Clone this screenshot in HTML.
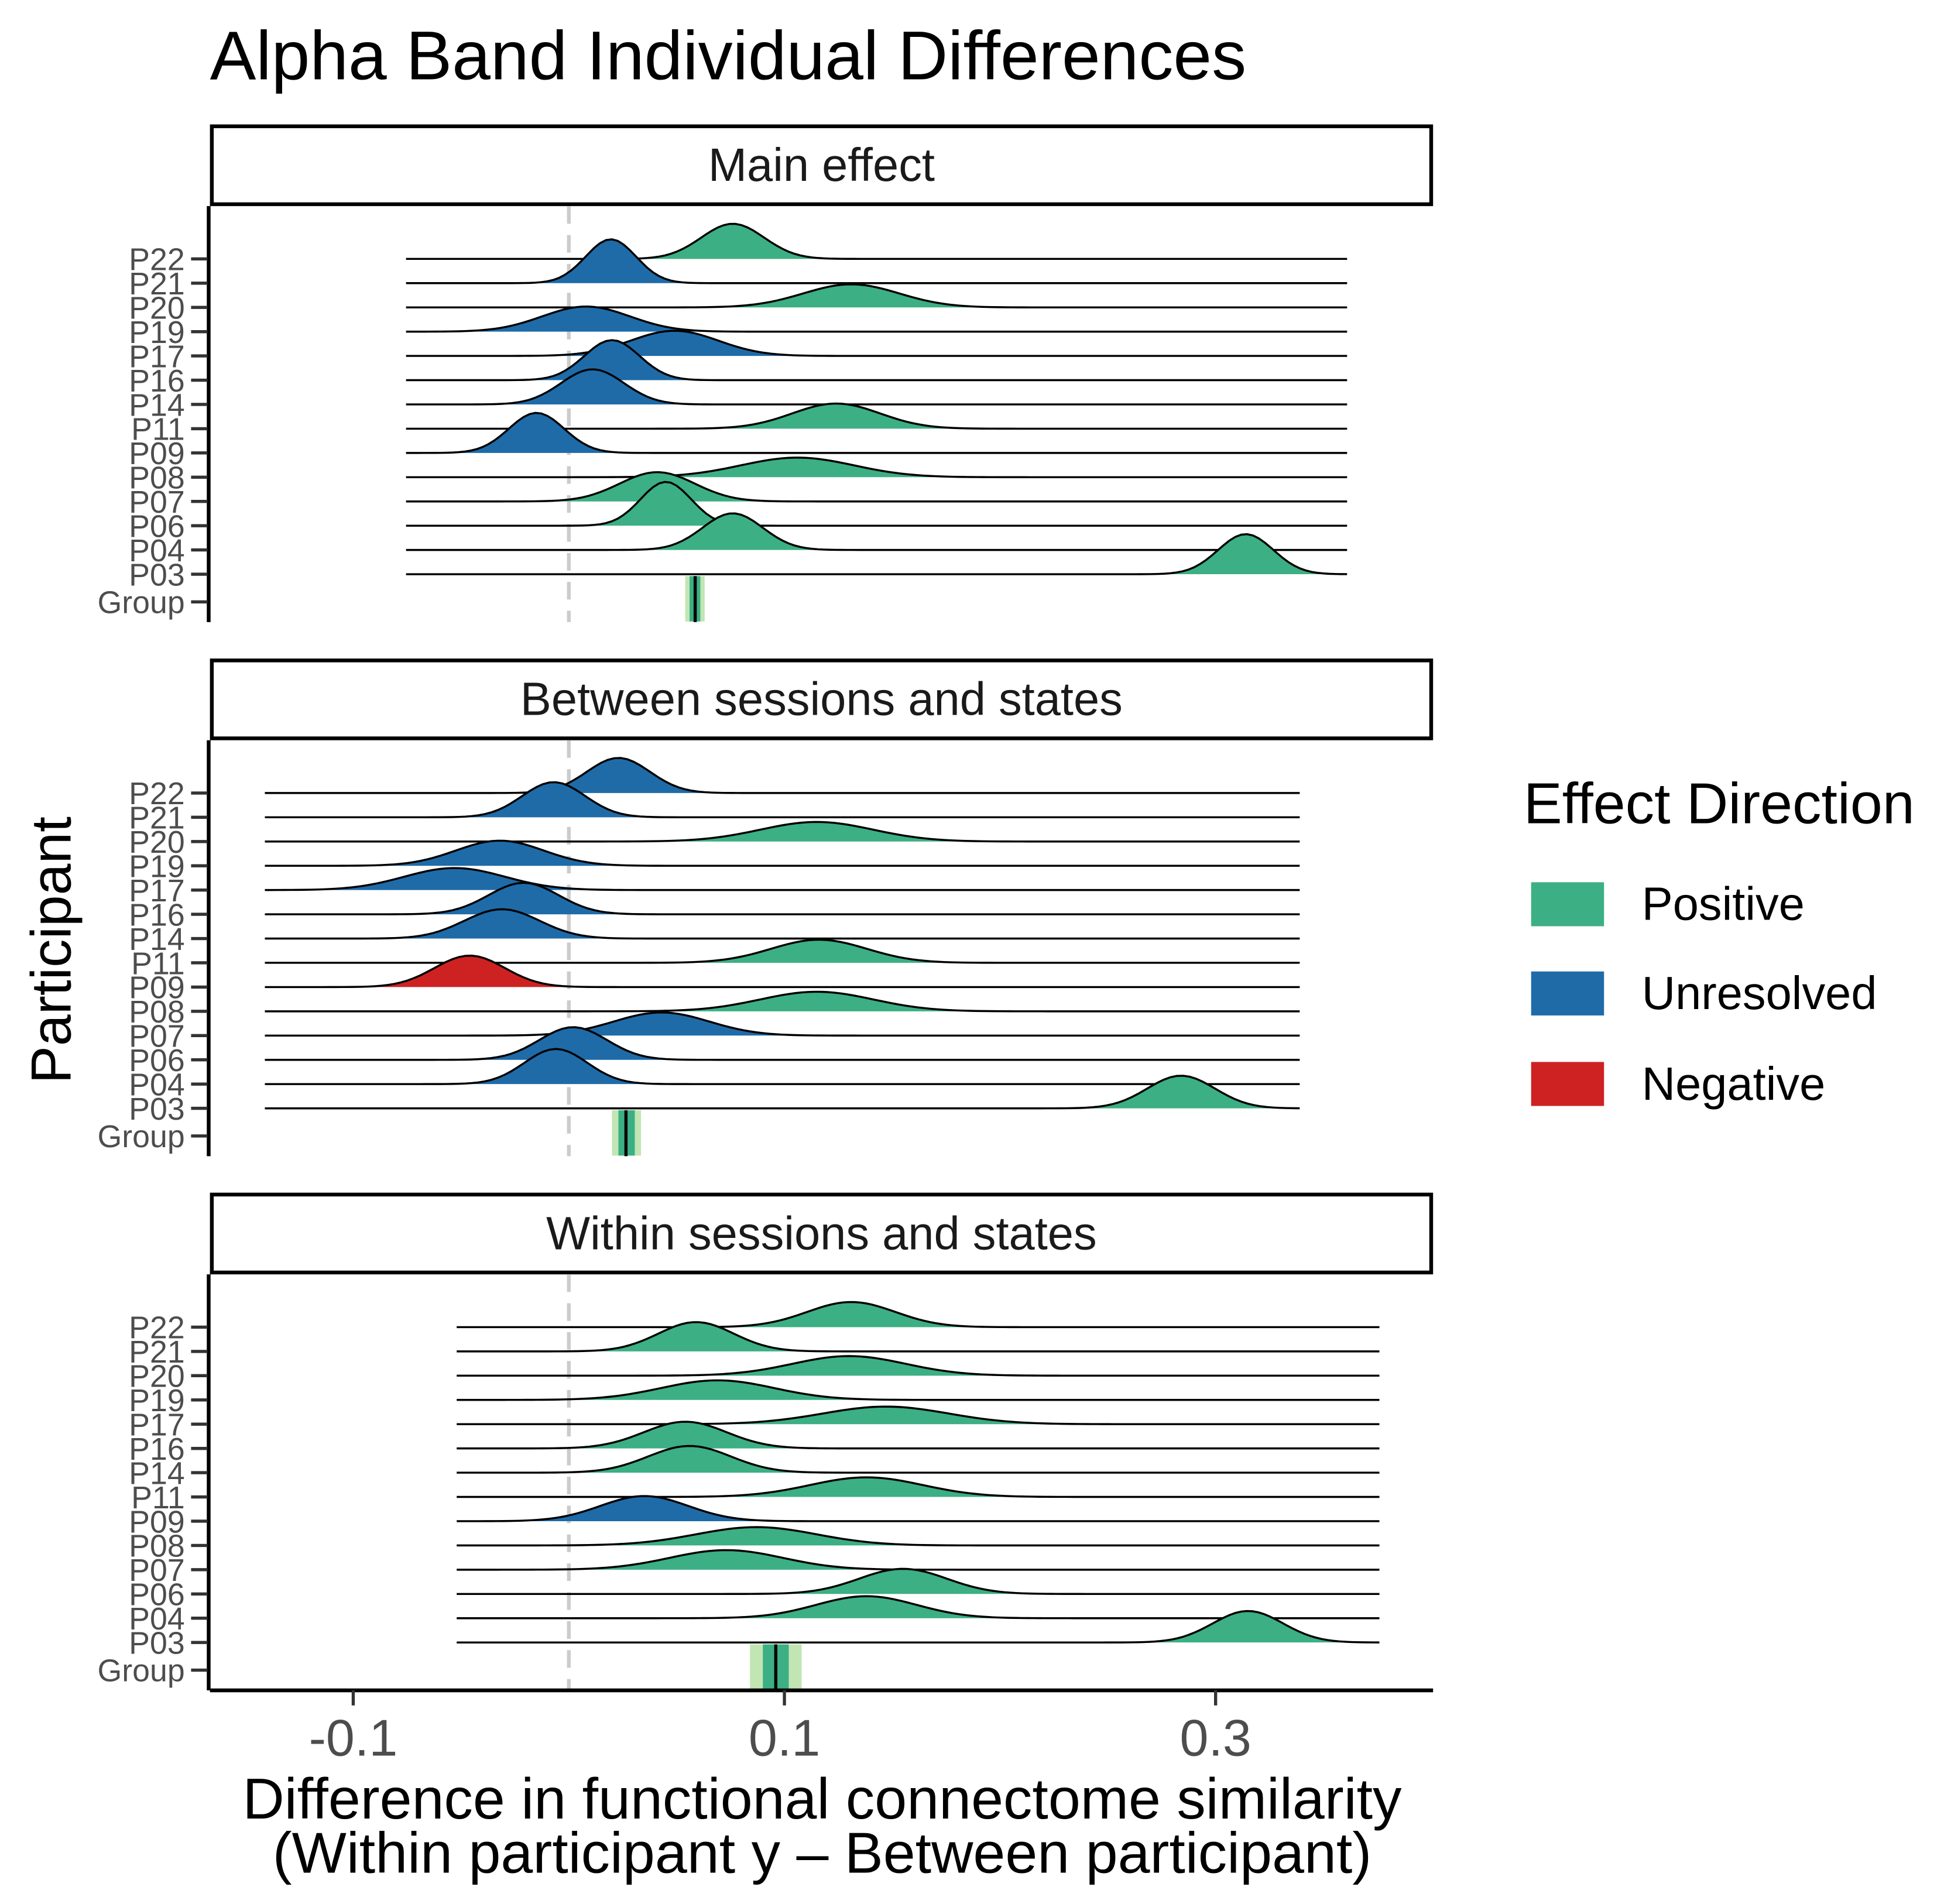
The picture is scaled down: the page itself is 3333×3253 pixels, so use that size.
<!DOCTYPE html>
<html><head><meta charset="utf-8"><style>
html,body{margin:0;padding:0;background:#fff;}
svg{display:block;font-family:"Liberation Sans",Arial,sans-serif;}
</style></head><body>
<svg id="chart" width="3333" height="3253" viewBox="0 0 1552 1515" preserveAspectRatio="none" xmlns="http://www.w3.org/2000/svg">
<rect width="1552" height="1515" fill="#fff"/>
<text x="167" y="63" font-size="55" fill="#000">Alpha Band Individual Differences</text>
<g id="panels"></g>
<text x="654" y="1447" font-size="46" text-anchor="middle">Difference in functional connectome similarity</text>
<text x="654" y="1490" font-size="46" text-anchor="middle">(Within participant y – Between participant)</text>
<text transform="translate(56,756) rotate(-90)" font-size="45" text-anchor="middle">Participant</text>
<g>
<text x="1212" y="655" font-size="46">Effect Direction</text>
<rect x="1218" y="702" width="58" height="35" fill="#3CAF84"/>
<text x="1306" y="732" font-size="37">Positive</text>
<rect x="1218" y="773" width="58" height="35" fill="#1F6BA8"/>
<text x="1306" y="803" font-size="37">Unresolved</text>
<rect x="1218" y="845" width="58" height="35" fill="#CE2222"/>
<text x="1306" y="875" font-size="37">Negative</text>
</g>
</svg>
<script>
const participants = ["P22","P21","P20","P19","P17","P16","P14","P11","P09","P08","P07","P06","P04","P03"];
const panelTitles = ["Main effect","Between sessions and states","Within sessions and states"];
const meansMain = [0.076,0.0195,0.131,0.008,0.049,0.020,0.011,0.124,-0.015,0.106,0.041,0.045,0.076,0.314];
const sdsMain = [0.0146,0.0117,0.0222,0.0204,0.0204,0.0128,0.0146,0.0204,0.0128,0.0262,0.0175,0.0117,0.014,0.0128];
const dirMain = ["P","U","P","U","U","U","U","P","U","P","P","P","P","P"];
const meansBetween = [0.023,-0.007,0.115,-0.032,-0.053,-0.021,-0.031,0.116,-0.046,0.115,0.043,0.002,-0.006,0.284];
const sdsBetween = [0.0146,0.0146,0.0262,0.0204,0.0233,0.0163,0.0175,0.0222,0.0163,0.0262,0.0222,0.0157,0.0146,0.0157];
const dirBetween = ["U","U","P","U","U","U","U","P","N","P","U","U","U","P"];
const meansWithin = [0.131,0.059,0.130,0.069,0.147,0.054,0.056,0.138,0.035,0.087,0.073,0.155,0.138,0.315];
const sdsWithin = [0.0204,0.0175,0.0262,0.0262,0.0292,0.0192,0.0192,0.0262,0.0204,0.028,0.0262,0.0204,0.0233,0.0163];
const dirWithin = ["P","P","P","P","P","P","P","P","U","P","P","P","P","P"];
const rangeMin = [-0.0755,-0.141,-0.052];
const rangeMax = [0.361,0.339,0.376];
const groupMean = [0.0586,0.0265,0.096];
const groupInnerLo = [0.056,0.023,0.090];
const groupInnerHi = [0.061,0.0306,0.102];
const groupOuterLo = [0.054,0.020,0.084];
const groupOuterHi = [0.063,0.0335,0.108];
const xTicks = [-0.1,0.1,0.3];
const xTickLabels = ["-0.1","0.1","0.3"];

const allMeans=[meansMain,meansBetween,meansWithin];
const allSds=[sdsMain,sdsBetween,sdsWithin];
const allDir=[dirMain,dirBetween,dirWithin];
const colors={P:"#3CAF84",U:"#1F6BA8",N:"#CE2222"};
const NS="http://www.w3.org/2000/svg";
const xScale=v=>452.5+v*1715;
const panelTop=[99,524,949];
const stripH=65;
const plotLeft=167, plotRight=1140;
const g=document.getElementById('panels');
function mk(tag,attrs,parent){const e=document.createElementNS(NS,tag);for(const k in attrs)e.setAttribute(k,attrs[k]);(parent||g).appendChild(e);return e;}

for(let p=0;p<3;p++){
  const top=panelTop[p];
  const pg=mk('g',{});
  
  
  const strip=mk('rect',{x:plotLeft+1.5,y:top+1.5,width:plotRight-plotLeft-3,height:stripH-3,fill:'#fff',stroke:'#000','stroke-width':3},pg);
  
  
  const st=mk('text',{x:(plotLeft+plotRight)/2,y:top+45,'font-size':37,'text-anchor':'middle',fill:'#1a1a1a'},pg);
  st.textContent=panelTitles[p];
  
  
  const y0=top+stripH;
  const rowY=i=>y0+42+i*19.3;
  const groupY=rowY(13)+22;
  const axisBottom=y0+331;
  const zl=mk('line',{x1:xScale(0),x2:xScale(0),y1:y0,y2:axisBottom,stroke:'#cccccc','stroke-width':3,'stroke-dasharray':'14,9'},pg);
  
  
  for(let i=0;i<participants.length;i++){
    const m=allMeans[p][i], s=allSds[p][i];
    const base=rowY(i);
    const h=700/(s*1715);
    let pts=[];
    const n=160;
    for(let k=0;k<=n;k++){
      const v=rangeMin[p]+(rangeMax[p]-rangeMin[p])*k/n;
      const d=Math.exp(-0.5*((v-m)/s)**2);
      pts.push([xScale(v),base-h*d]);
    }
    const line=pts.map((q,k)=>(k?'L':'M')+q[0].toFixed(1)+','+q[1].toFixed(2)).join('');
    const fill=mk('path',{d:line+'L'+xScale(rangeMax[p])+','+base+'L'+xScale(rangeMin[p])+','+base+'Z',fill:colors[allDir[p][i]]},pg);
    
    
    const ol=mk('path',{d:line,fill:'none',stroke:'#000','stroke-width':1.6},pg);
    
    
  }
  const gb1=mk('rect',{x:xScale(groupOuterLo[p]),y:rowY(13)+1.5,width:xScale(groupOuterHi[p])-xScale(groupOuterLo[p]),height:axisBottom-rowY(13)-2,fill:'#C2E5B4'},pg);
  
  
  const gb2=mk('rect',{x:xScale(groupInnerLo[p]),y:rowY(13)+1.5,width:xScale(groupInnerHi[p])-xScale(groupInnerLo[p]),height:axisBottom-rowY(13)-2,fill:'#3CAF84'},pg);
  
  
  const gm=mk('line',{x1:xScale(groupMean[p]),x2:xScale(groupMean[p]),y1:rowY(13)+1.5,y2:axisBottom,stroke:'#000','stroke-width':2.5},pg);
  
  
  const ya=mk('line',{x1:166,x2:166,y1:y0,y2:axisBottom,stroke:'#000','stroke-width':3},pg);
  
  
  const labels=participants.concat(['Group']);
  for(let i=0;i<labels.length;i++){
    const y=i<14?rowY(i):groupY;
    const tk=mk('line',{x1:152,x2:165,y1:y,y2:y,stroke:'#333','stroke-width':2.5},pg);
    
    
    const tl=mk('text',{x:147,y:y+9,'font-size':25,'text-anchor':'end',fill:'#4d4d4d'},pg);
    tl.textContent=labels[i];
    
    
  }
  if(p===2){
    const xa=mk('line',{x1:plotLeft,x2:plotRight,y1:axisBottom,y2:axisBottom,stroke:'#000','stroke-width':3},pg);
    
    
    for(let k=0;k<xTicks.length;k++){
      const x=xScale(xTicks[k]);
      const t=mk('line',{x1:x,x2:x,y1:axisBottom,y2:axisBottom+12,stroke:'#333','stroke-width':2.5},pg);
      
      
      const tl=mk('text',{x:x,y:axisBottom+52,'font-size':41,'text-anchor':'middle',fill:'#4d4d4d'},pg);
      tl.textContent=xTickLabels[k];
      
      
    }
  }
}
</script>
</body></html>
